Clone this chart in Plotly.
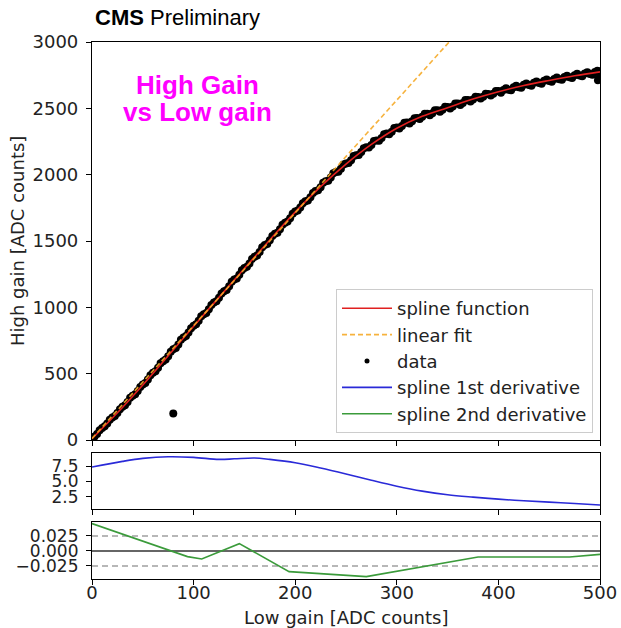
import plotly.graph_objects as go

# ---------------- data ----------------
spline_x = [0, 25, 50, 75, 100, 125, 150, 175, 200, 225, 250, 275, 300, 325,
            350, 375, 400, 425, 450, 475, 500]
spline_y = [10, 205, 415, 635, 858, 1075, 1292, 1508, 1718, 1910, 2080, 2228,
            2350, 2440, 2505, 2570, 2625, 2672, 2710, 2745, 2775]

linear_x = [0, 500]
linear_y = [12, 4262]

data_x = [0, 5, 10, 15, 20, 25, 30, 35, 40, 45, 50, 55, 60, 65, 70, 75, 80, 85, 90, 95,
          100, 105, 110, 115, 120, 125, 130, 135, 140, 145, 150, 155, 160, 165, 170, 175,
          180, 185, 190, 195, 200, 205, 210, 215, 220, 225, 230, 235, 240, 245, 250,
          255, 260, 265, 270, 275, 280, 285, 290, 295, 300, 305, 310, 315, 320, 325,
          330, 335, 340, 345, 350, 355, 360, 365, 370, 375, 380, 385, 390, 395, 400,
          405, 410, 415, 420, 425, 430, 435, 440, 445, 450, 455, 460, 465, 470, 475,
          480, 485, 490, 495, 500, 499, 498, 80,
          2.5, 7.5, 12.5, 17.5, 22.5, 27.5, 32.5, 37.5, 42.5, 47.5, 52.5, 57.5, 62.5,
          67.5, 72.5, 77.5, 82.5, 87.5, 92.5, 97.5, 102.5, 107.5, 112.5, 117.5, 122.5,
          127.5, 132.5, 137.5, 142.5, 147.5, 152.5, 157.5, 162.5, 167.5, 172.5, 177.5,
          182.5, 187.5, 192.5, 197.5, 202.5, 207.5, 212.5, 217.5, 222.5, 227.5, 232.5,
          237.5, 242.5, 247.5, 252.5, 257.5, 262.5, 267.5, 272.5, 277.5, 282.5, 287.5,
          292.5, 297.5, 302.5, 307.5, 312.5, 317.5, 322.5, 327.5, 332.5, 337.5, 342.5,
          347.5, 352.5, 357.5, 362.5, 367.5, 372.5, 377.5, 382.5, 387.5, 392.5, 397.5,
          402.5, 407.5, 412.5, 417.5, 422.5, 427.5, 432.5, 437.5, 442.5, 447.5, 452.5,
          457.5, 462.5, 467.5, 472.5, 477.5, 482.5, 487.5, 492.5, 497.5]
data_y = [12, 46, 90, 124, 170, 203, 250, 286, 334, 370, 418, 456, 506, 544, 594, 632,
          684, 720, 772, 810, 861, 898, 948, 985, 1036, 1072, 1121, 1158, 1210, 1245,
          1296, 1331, 1382, 1418, 1469, 1505, 1554, 1588, 1638, 1672, 1722, 1752, 1799,
          1829, 1876, 1906, 1950, 1978, 2020, 2045, 2084, 2108, 2147, 2170, 2206, 2224,
          2258, 2276, 2310, 2324, 2355, 2366, 2394, 2402, 2428, 2436, 2459, 2463, 2485,
          2489, 2510, 2514, 2536, 2540, 2562, 2566, 2585, 2588, 2608, 2610, 2630, 2638,
          2640, 2658, 2659, 2677, 2676, 2692, 2691, 2707, 2706, 2722, 2720, 2736, 2734,
          2750, 2747, 2762, 2759, 2774, 2760, 2725, 2712, 200,
          26, 74, 104, 152, 180, 232, 262, 318, 345, 400, 430, 488, 518, 578, 606, 665,
          694, 755, 784, 842, 872, 932, 958, 1018, 1046, 1104, 1131, 1192, 1218, 1279,
          1306, 1365, 1391, 1452, 1478, 1538, 1563, 1622, 1647, 1706, 1729, 1785, 1805,
          1862, 1882, 1940, 1955, 2010, 2022, 2076, 2087, 2140, 2148, 2200, 2204, 2253,
          2255, 2304, 2304, 2351, 2348, 2392, 2385, 2426, 2419, 2459, 2448, 2485, 2474,
          2511, 2499, 2536, 2525, 2562, 2551, 2587, 2574, 2609, 2596, 2631, 2617, 2651,
          2636, 2670, 2655, 2688, 2671, 2703, 2686, 2718, 2701, 2732, 2715, 2746, 2729,
          2760, 2742, 2772, 2754, 2784]

deriv1_x = [0, 30, 50, 75, 100, 125, 140, 160, 175, 200, 225, 250, 275, 300, 325,
            350, 375, 400, 425, 450, 475, 500]
deriv1_y = [7.34, 8.25, 8.73, 9.0, 8.9, 8.57, 8.66, 8.8, 8.57, 8.03, 7.18, 6.22, 5.2,
            4.24, 3.44, 2.85, 2.47, 2.15, 1.88, 1.67, 1.45, 1.2]

deriv2_x = [0, 94, 108, 145, 194, 270, 380, 470, 500]
deriv2_y = [0.0456, -0.0094, -0.0133, 0.0122, -0.0344, -0.0428, -0.0100, -0.0100, -0.0056]

ref_levels = [-0.025, 0.0, 0.025]

x_ticks = [0, 100, 200, 300, 400, 500]
main_y_ticks = [0, 500, 1000, 1500, 2000, 2500, 3000]
mid_y_ticks = [2.5, 5.0, 7.5]
mid_y_text = ["2.5", "5.0", "7.5"]
bot_y_ticks = [-0.025, 0.0, 0.025]
bot_y_text = ["\u22120.025", "0.000", "0.025"]

# ---------------- figure ----------------
W, H = 621, 628
FS = 18
TICKFONT = dict(family="DejaVu Sans", size=FS, color="#222222")
SMALLTICKFONT = dict(family="DejaVu Sans", size=17, color="#222222")

fig = go.Figure()

fig.add_trace(go.Scatter(x=data_x, y=data_y, mode="markers", name="data",
                         marker=dict(color="black", size=8), showlegend=False,
                         xaxis="x", yaxis="y"))
fig.add_trace(go.Scatter(x=spline_x, y=spline_y, mode="lines", name="spline function",
                         line=dict(color="#e02020", width=1.6, shape="spline"),
                         xaxis="x", yaxis="y"))
fig.add_trace(go.Scatter(x=linear_x, y=linear_y, mode="lines", name="linear fit",
                         line=dict(color="rgba(245,170,40,0.9)", width=1.6, dash="5px,3px"),
                         xaxis="x", yaxis="y"))
fig.add_trace(go.Scatter(x=[None], y=[None], mode="markers", name="data",
                         marker=dict(color="black", size=5),
                         xaxis="x", yaxis="y"))
fig.add_trace(go.Scatter(x=deriv1_x, y=deriv1_y, mode="lines", name="spline 1st derivative",
                         line=dict(color="#2a2ad8", width=1.6, shape="spline"),
                         xaxis="x2", yaxis="y2"))
fig.add_trace(go.Scatter(x=deriv2_x, y=deriv2_y, mode="lines", name="spline 2nd derivative",
                         line=dict(color="#3b9b3b", width=1.6),
                         xaxis="x3", yaxis="y3"))

xdom = [92 / W, 600 / W]
def ydom(top_px, bot_px):
    return [(H - bot_px) / H, (H - top_px) / H]

axis_common = dict(showline=True, linecolor="black", linewidth=1.2, mirror=True,
                   ticks="outside", ticklen=5, tickcolor="black", showgrid=False,
                   zeroline=False, automargin=False)

fig.update_layout(
    width=W, height=H,
    margin=dict(l=0, r=0, t=0, b=0, autoexpand=False),
    paper_bgcolor="white", plot_bgcolor="white",
    xaxis=dict(domain=xdom, anchor="y", range=[0, 500], tickvals=x_ticks,
               showticklabels=False, tickfont=TICKFONT, **axis_common),
    yaxis=dict(domain=ydom(42, 440), anchor="x", range=[0, 3000], tickvals=main_y_ticks,
               ticklabelstandoff=4, tickfont=TICKFONT, **axis_common),
    xaxis2=dict(domain=xdom, anchor="y2", range=[0, 500], tickvals=x_ticks,
                showticklabels=False, tickfont=TICKFONT, **axis_common),
    yaxis2=dict(domain=ydom(453, 509), anchor="x2", range=[0.56, 9.6],
                tickvals=mid_y_ticks, ticktext=mid_y_text, ticklabelstandoff=4,
                tickfont=SMALLTICKFONT, **axis_common),
    xaxis3=dict(domain=xdom, anchor="y3", range=[0, 500], tickvals=x_ticks,
                ticklabelstandoff=-8, tickfont=TICKFONT, **axis_common),
    yaxis3=dict(domain=ydom(522, 579), anchor="x3", range=[-0.0467, 0.0483],
                tickvals=bot_y_ticks, ticktext=bot_y_text, ticklabelstandoff=4,
                tickfont=SMALLTICKFONT, **axis_common),
    legend=dict(x=593 / W, y=(H - 433) / H, xanchor="right", yanchor="bottom",
                bgcolor="rgba(255,255,255,0.85)", bordercolor="#cccccc", borderwidth=1,
                font=dict(family="DejaVu Sans", size=FS, color="#222222"),
                traceorder="normal", itemwidth=50),
    showlegend=True,
)

for lvl in ref_levels:
    if lvl == 0:
        line = dict(color="#333333", width=1.3)
    else:
        line = dict(color="#a0a0a0", width=1.3, dash="6px,4px")
    fig.add_shape(type="line", xref="x3 domain", yref="y3", x0=0, x1=1, y0=lvl, y1=lvl,
                  line=line, layer="below")

def px(xp):
    return xp / W
def py(yp):
    return (H - yp) / H

fig.add_annotation(x=px(93), y=py(18), xref="paper", yref="paper", showarrow=False,
                   xanchor="left", yanchor="middle",
                   text="<b>CMS</b> Preliminary",
                   font=dict(family="Liberation Sans", size=22, color="black"))
fig.add_annotation(x=px(197), y=py(85), xref="paper", yref="paper", showarrow=False,
                   xanchor="center", yanchor="middle", text="<b>High Gain</b>",
                   font=dict(family="Liberation Sans", size=26, color="#ff00ff"))
fig.add_annotation(x=px(197), y=py(112), xref="paper", yref="paper", showarrow=False,
                   xanchor="center", yanchor="middle", text="<b>vs Low gain</b>",
                   font=dict(family="Liberation Sans", size=26, color="#ff00ff"))
fig.add_annotation(x=px(18), y=py(241), xref="paper", yref="paper", showarrow=False,
                   xanchor="center", yanchor="middle", textangle=-90,
                   text="High gain [ADC counts]",
                   font=dict(family="DejaVu Sans", size=FS, color="#222222"))
fig.add_annotation(x=px(346), y=py(617), xref="paper", yref="paper", showarrow=False,
                   xanchor="center", yanchor="middle",
                   text="Low gain [ADC counts]",
                   font=dict(family="DejaVu Sans", size=FS, color="#222222"))

fig.write_html("out.html")
